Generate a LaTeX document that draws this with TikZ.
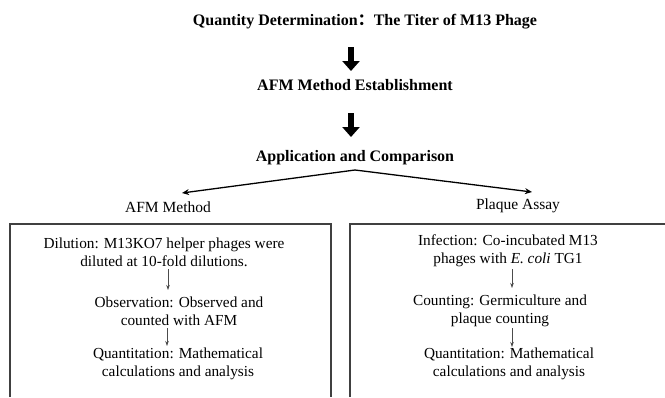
\documentclass[tikz,border=0pt]{standalone}
\usepackage{fontspec}
\setmainfont{Liberation Serif}
\newfontfamily\cjk{Noto Sans CJK SC}
\usetikzlibrary{arrows.meta}
\begin{document}
\begin{tikzpicture}[x=1pt,y=-1pt,
  titletext/.style={font=\fontsize{16}{19}\selectfont\bfseries, inner sep=0pt, anchor=center},
  labeltext/.style={font=\fontsize{15.5}{18}\selectfont, inner sep=0pt, anchor=center},
  bodytext/.style={font=\fontsize{15.3}{18}\selectfont, align=center, inner sep=0pt, anchor=center},
  bigarrow/.style={line width=6pt, -{Triangle[width=17pt,length=10pt]}},
  splitline/.style={line width=1.3pt, -{Stealth[width=6pt,length=7pt]}},
  smallarrow/.style={line width=0.6pt, draw=black!70, -{Stealth[width=3.5pt,length=5pt]}},
  boxline/.style={line width=1.1pt, draw=black!75}
]
\useasboundingbox (0,0) rectangle (665,397);
% titles
\node[titletext] (t1) at (365,22) {Quantity Determination{\cjk ：}The Titer of M13 Phage};
\node[titletext] (t2) at (355,85) {AFM Method Establishment};
\node[titletext] (t3) at (355,158) {Application and Comparison};
% big arrows
\coordinate (a1s) at (351,47);
\coordinate (a1e) at (351,71);
\coordinate (a2s) at (351,113);
\coordinate (a2e) at (351,137);
\draw[bigarrow] (a1s) -- (a1e);
\draw[bigarrow] (a2s) -- (a2e);
% split
\coordinate (peak) at (355,170);
\coordinate (lend) at (182,193);
\coordinate (rend) at (532,192);
\draw[splitline] (peak) -- (lend);
\draw[splitline] (peak) -- (rend);
\node[labeltext] (lm) at (168,207) {AFM Method};
\node[labeltext] (rm) at (518,206) {Plaque Assay};
% boxes
\coordinate (lb1) at (10,397);
\coordinate (lb2) at (10,224);
\coordinate (lb3) at (331,224);
\coordinate (lb4) at (331,397);
\draw[boxline] (lb1) -- (lb2) -- (lb3) -- (lb4);
\coordinate (rb1) at (350,397);
\coordinate (rb2) at (350,224);
\coordinate (rb3) at (666,224);
\draw[boxline] (rb1) -- (rb2) -- (rb3);
% left content
\node[bodytext] (l1) at (164,252) {Dilution: M13KO7 helper phages were\\diluted at 10-fold dilutions.};
\node[bodytext] (l2) at (179,311) {Observation: Observed and\\counted with AFM};
\node[bodytext] (l3) at (178,364) {Quantitation: Mathematical\\calculations and analysis};
\coordinate (la1s) at (168,269);
\coordinate (la1e) at (168,290);
\coordinate (la2s) at (167,328);
\coordinate (la2e) at (167,346);
\draw[smallarrow] (la1s) -- (la1e);
\draw[smallarrow] (la2s) -- (la2e);
% right content
\node[bodytext] (r1) at (508,251) {Infection: Co-incubated M13\\phages with \textit{E. coli} TG1};
\node[bodytext] (r2) at (500,311) {Counting: Germiculture and\\plaque counting};
\node[bodytext] (r3) at (509,364) {Quantitation: Mathematical\\calculations and analysis};
\coordinate (ra1s) at (512,269);
\coordinate (ra1e) at (512,288);
\coordinate (ra2s) at (512,328);
\coordinate (ra2e) at (512,347);
\draw[smallarrow] (ra1s) -- (ra1e);
\draw[smallarrow] (ra2s) -- (ra2e);
\end{tikzpicture}
\end{document}
